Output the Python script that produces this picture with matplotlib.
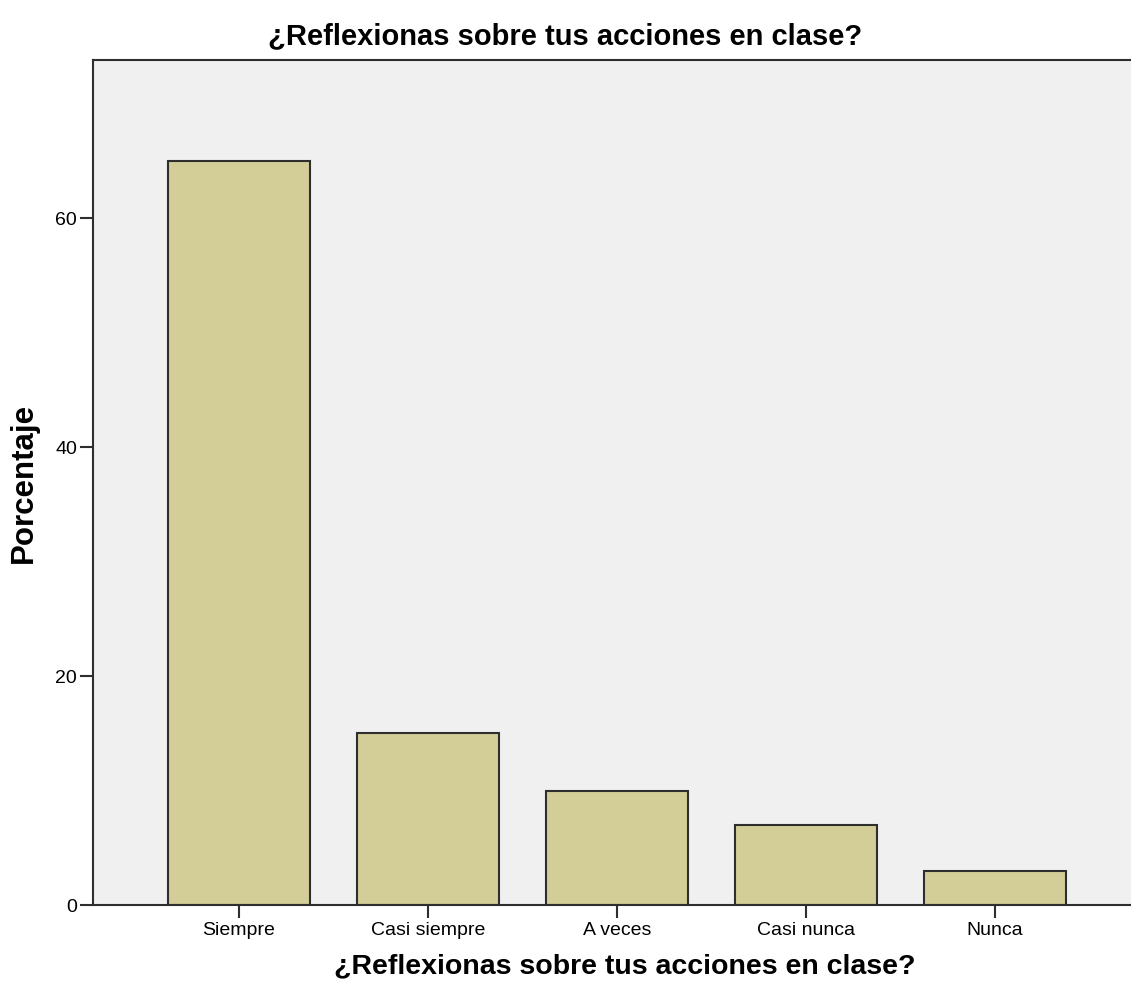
import matplotlib.pyplot as plt

categories = ["Siempre", "Casi siempre", "A veces", "Casi nunca", "Nunca"]
percentages = [65, 15, 10, 7, 3]
y_ticks = [0, 20, 40, 60]

title = "¿Reflexionas sobre tus acciones en clase?"

plt.rcParams['font.family'] = ['Liberation Sans', 'DejaVu Sans']


def main():
  fig = plt.figure(figsize=(11.31, 10), dpi=100)
  ax = fig.add_axes([93 / 1131, 95 / 1000, 1 - 93 / 1131, 845 / 1000])
  ax.set_facecolor('#f0f0f0')

  x = list(range(len(categories)))
  ax.bar(x, percentages, width=0.75, color='#d3ce97',
         edgecolor='#2e2e2e', linewidth=1.5)

  ax.set_xlim(-0.772, 4.72)
  ax.set_ylim(0, 73.8)
  ax.set_xticks(x)
  ax.set_xticklabels(categories, fontsize=14)
  ax.set_yticks(y_ticks)
  ax.set_yticklabels([str(t) for t in y_ticks], fontsize=14)
  ax.tick_params(direction='out', length=9.5, width=1.5, color='#2e2e2e')
  ax.tick_params(axis='x', pad=3)
  ax.tick_params(axis='y', pad=2)

  for side in ['left', 'bottom', 'top']:
    ax.spines[side].set_linewidth(1.5)
    ax.spines[side].set_color('#2e2e2e')
  ax.spines['right'].set_visible(False)

  fig.text(0.5, 0.964, title, ha='center', va='center',
           fontsize=21, fontweight='bold')
  fig.text(625 / 1131, 0.034, title, ha='center', va='center',
           fontsize=20.5, fontweight='bold')
  fig.text(0.021, 0.517, "Porcentaje", ha='center', va='center',
           rotation=90, fontsize=22.5, fontweight='bold')

  fig.savefig('out.png', dpi=100)


if __name__ == "__main__":
  main()
